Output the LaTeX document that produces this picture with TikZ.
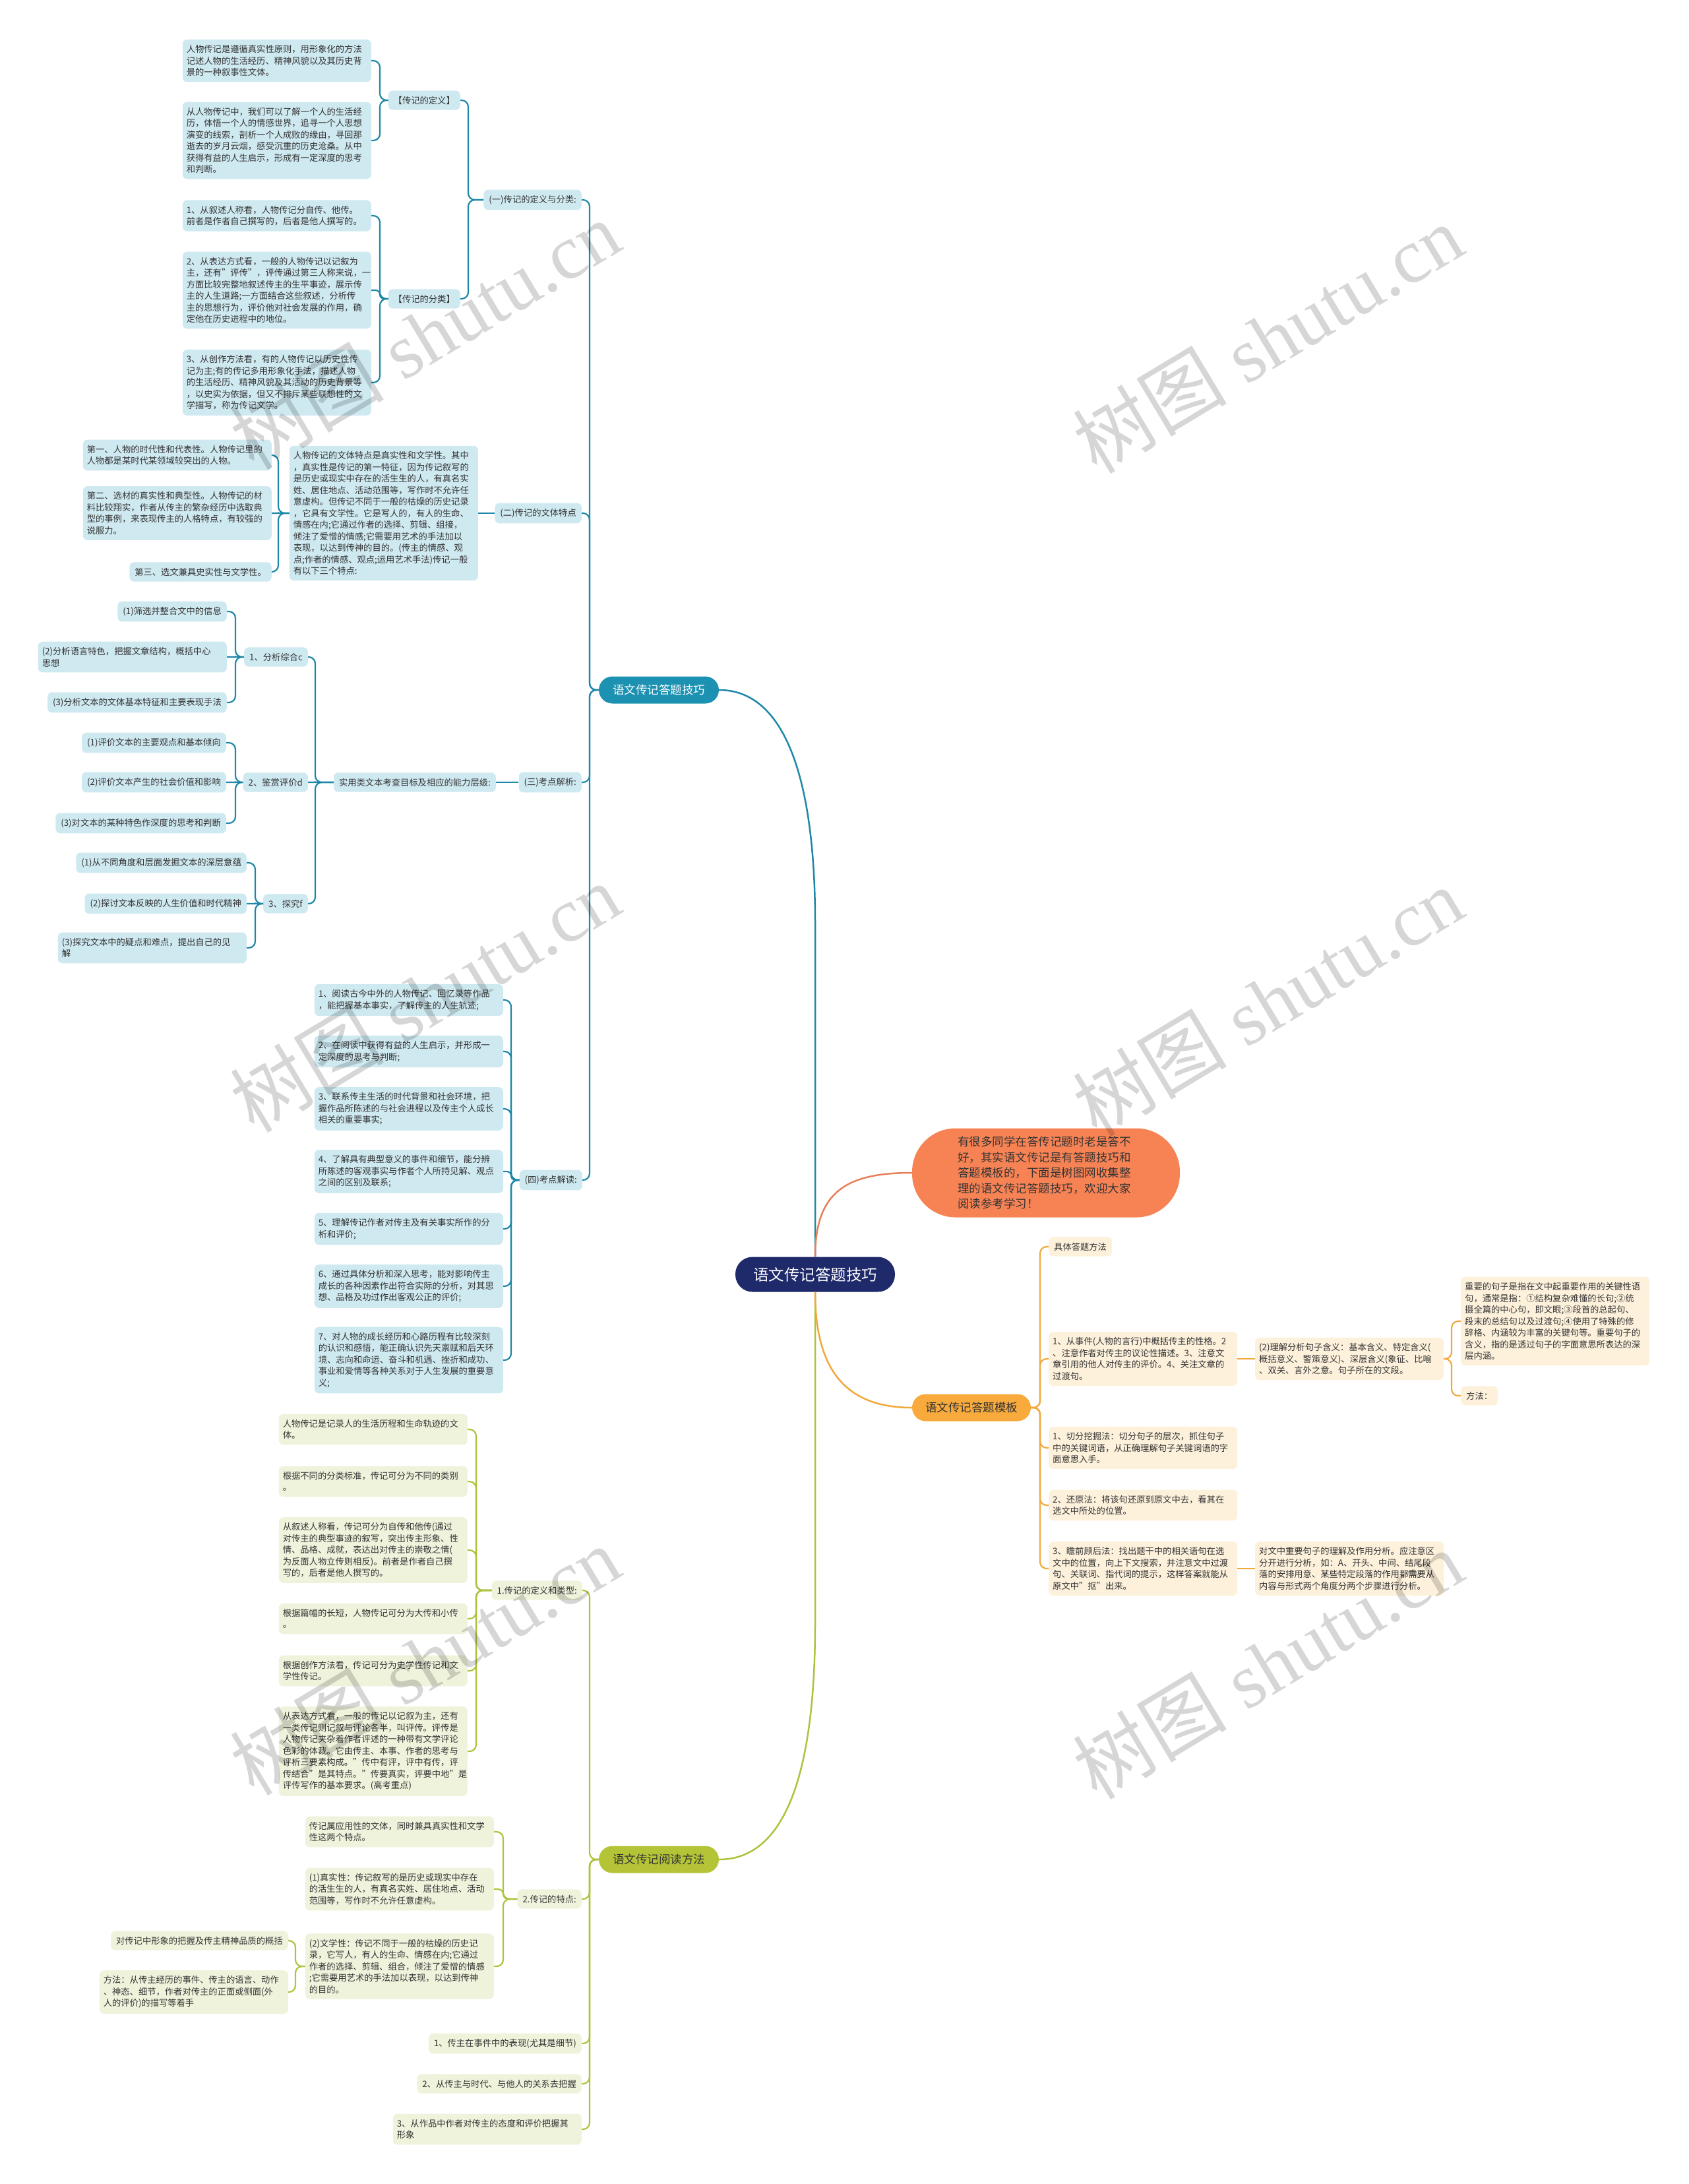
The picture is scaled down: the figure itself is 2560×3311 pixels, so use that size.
\documentclass[tikz,border=0pt]{standalone}
\usepackage{fontspec}
\setmainfont{Noto Sans CJK SC}
\newfontfamily\wmlatin{Liberation Serif}
\usetikzlibrary{calc}
\definecolor{tc}{HTML}{333333}
\definecolor{bfill}{HTML}{CFE9F1}
\definecolor{bline}{HTML}{1E88A8}
\definecolor{bmain}{HTML}{1C91B2}
\definecolor{navy}{HTML}{1F2A6B}
\definecolor{introc}{HTML}{F78355}
\definecolor{introl}{HTML}{E67F5A}
\definecolor{omain}{HTML}{F8AA3C}
\definecolor{oline}{HTML}{F1A83C}
\definecolor{ofill}{HTML}{FDF1DC}
\definecolor{gmain}{HTML}{B5C437}
\definecolor{gline}{HTML}{AFC23C}
\definecolor{gfill}{HTML}{EFF3DC}
\newcommand\fs{\fontsize{13.3}{17.5}\selectfont}
\newcommand\fm{\fontsize{17.5}{23.5}\selectfont}
\newcommand\fc{\fontsize{23.5}{28}\selectfont}
\newcommand\lc[4]{\draw[#1] let \p1=(#2.west), \p2=(#3.east), \n1={max(0.5,min(10,abs(\y2-\y1)/2))} in [rounded corners=\n1] (\p1) -- (#4pt,\y1) -- (#4pt,\y2) -- (\p2);}
\newcommand\rc[4]{\draw[#1] let \p1=(#2.east), \p2=(#3.west), \n1={max(0.5,min(10,abs(\y2-\y1)/2))} in [rounded corners=\n1] (\p1) -- (#4pt,\y1) -- (#4pt,\y2) -- (\p2);}
\newcommand\wmtext{树图\hspace{0.25em}{\wmlatin shutu.cn}}
\begin{document}
\begin{tikzpicture}[x=1pt,y=-1pt,
  base/.style={rounded corners=7pt, inner xsep=8pt, inner ysep=8.5pt, text=tc, font=\fs, align=left},
  wrapb/.style={text width=274pt, inner xsep=6pt},
  bn/.style={base, fill=bfill},
  gn/.style={base, fill=gfill},
  on/.style={base, fill=ofill},
  bl/.style={draw=bline, line width=2.2pt},
  gl/.style={draw=gline, line width=2.2pt},
  ol/.style={draw=oline, line width=2.2pt},
  mainn/.style={rounded corners=20.5pt, minimum width=182pt, minimum height=41pt, inner sep=0pt, font=\fm},
  wm/.style={rotate=31, text=black, opacity=0.16, font=\fontsize{117}{117}\selectfont}
]
\path[use as bounding box, fill=white] (0,0) rectangle (2560,3311);

% ---------- central and main nodes ----------
\node[fill=navy, text=white, rounded corners=26pt, minimum width=242pt, minimum height=53pt, inner sep=0pt, font=\fc] (root) at (1236,1932) {语文传记答题技巧};
\node[mainn, fill=bmain, text=white] (bm) at (999,1046) {语文传记答题技巧};
\node[mainn, fill=gmain, text=tc] (grm) at (999,2819) {语文传记阅读方法};
\node[mainn, fill=omain, text=tc, minimum width=180pt] (gm) at (1473,2134) {语文传记答题模板};
\node[fill=introc, text=tc, rounded corners=66pt, text width=268pt, inner xsep=69pt, inner ysep=11pt, minimum height=135pt, font=\fm, align=left] (intro) at (1586,1778) {有很多同学在答传记题时老是答不\\好，其实语文传记是有答题技巧和\\答题模板的，下面是树图网收集整\\理的语文传记答题技巧，欢迎大家\\阅读参考学习！};

% ---------- blue branch ----------
\node[bn, wrapb, anchor=east] (def1) at (563,92) {人物传记是遵循真实性原则，用形象化的方法\\记述人物的生活经历、精神风貌以及其历史背\\景的一种叙事性文体。};
\node[bn, wrapb, anchor=east] (def2) at (563,213) {从人物传记中，我们可以了解一个人的生活经\\历，体悟一个人的情感世界，追寻一个人思想\\演变的线索，剖析一个人成败的缘由，寻回那\\逝去的岁月云烟，感受沉重的历史沧桑。从中\\获得有益的人生启示，形成有一定深度的思考\\和判断。};
\node[bn, anchor=east] (def) at (698,152) {【传记的定义】};
\node[bn, wrapb, anchor=east] (cls1) at (563,327) {1、从叙述人称看，人物传记分自传、他传。\\前者是作者自己撰写的，后者是他人撰写的。};
\node[bn, wrapb, anchor=east] (cls2) at (563,440) {2、从表达方式看，一般的人物传记以记叙为\\主，还有"评传"，评传通过第三人称来说，一\\方面比较完整地叙述传主的生平事迹，展示传\\主的人生道路;一方面结合这些叙述，分析传\\主的思想行为，评价他对社会发展的作用，确\\定他在历史进程中的地位。};
\node[bn, wrapb, anchor=east] (cls3) at (563,580) {3、从创作方法看，有的人物传记以历史性传\\记为主;有的传记多用形象化手法，描述人物\\的生活经历、精神风貌及其活动的历史背景等\\，以史实为依据，但又不排斥某些联想性的文\\学描写，称为传记文学。};
\node[bn, anchor=east] (cls) at (698,453) {【传记的分类】};
\node[bn, anchor=east] (s1) at (882,303) {(一)传记的定义与分类:};

\node[bn, wrapb, anchor=east] (di1) at (412,690) {第一、人物的时代性和代表性。人物传记里的\\人物都是某时代某领域较突出的人物。};
\node[bn, wrapb, anchor=east] (di2) at (412,778) {第二、选材的真实性和典型性。人物传记的材\\料比较翔实，作者从传主的繁杂经历中选取典\\型的事例，来表现传主的人格特点，有较强的\\说服力。};
\node[bn, anchor=east] (di3) at (412,867) {第三、选文兼具史实性与文学性。};
\node[bn, wrapb, anchor=east] (wt) at (725,778) {人物传记的文体特点是真实性和文学性。其中\\，真实性是传记的第一特征，因为传记叙写的\\是历史或现实中存在的活生生的人，有真名实\\姓、居住地点、活动范围等，写作时不允许任\\意虚构。但传记不同于一般的枯燥的历史记录\\，它具有文学性。它是写人的，有人的生命、\\情感在内;它通过作者的选择、剪辑、组接，\\倾注了爱憎的情感;它需要用艺术的手法加以\\表现，以达到传神的目的。(传主的情感、观\\点;作者的情感、观点;运用艺术手法)传记一般\\有以下三个特点:};
\node[bn, anchor=east] (s2) at (882,778) {(二)传记的文体特点};

\node[bn, anchor=east] (a1) at (344,927) {(1)筛选并整合文中的信息};
\node[bn, wrapb, anchor=east] (a2) at (344,996) {(2)分析语言特色，把握文章结构，概括中心\\思想};
\node[bn, anchor=east] (a3) at (344,1065) {(3)分析文本的文体基本特征和主要表现手法};
\node[bn, anchor=east] (A) at (467,996) {1、分析综合c};
\node[bn, anchor=east] (b1) at (343,1126) {(1)评价文本的主要观点和基本倾向};
\node[bn, anchor=east] (b2) at (343,1186) {(2)评价文本产生的社会价值和影响};
\node[bn, anchor=east] (b3) at (343,1248) {(3)对文本的某种特色作深度的思考和判断};
\node[bn, anchor=east] (B) at (467,1186) {2、鉴赏评价d};
\node[bn, anchor=east] (c1) at (374,1308) {(1)从不同角度和层面发掘文本的深层意蕴};
\node[bn, anchor=east] (c2) at (374,1370) {(2)探讨文本反映的人生价值和时代精神};
\node[bn, wrapb, anchor=east] (c3) at (374,1437) {(3)探究文本中的疑点和难点，提出自己的见\\解};
\node[bn, anchor=east] (C) at (467,1370) {3、探究f};
\node[bn, anchor=east] (sy) at (752,1186) {实用类文本考查目标及相应的能力层级:};
\node[bn, anchor=east] (s3) at (882,1186) {(三)考点解析:};

\node[bn, wrapb, anchor=east] (k1) at (763,1516) {1、阅读古今中外的人物传记、回忆录等作品\\，能把握基本事实，了解传主的人生轨迹;};
\node[bn, wrapb, anchor=east] (k2) at (763,1594) {2、在阅读中获得有益的人生启示，并形成一\\定深度的思考与判断;};
\node[bn, wrapb, anchor=east] (k3) at (763,1681) {3、联系传主生活的时代背景和社会环境，把\\握作品所陈述的与社会进程以及传主个人成长\\相关的重要事实;};
\node[bn, wrapb, anchor=east] (k4) at (763,1776) {4、了解具有典型意义的事件和细节，能分辨\\所陈述的客观事实与作者个人所持见解、观点\\之间的区别及联系;};
\node[bn, wrapb, anchor=east] (k5) at (763,1863) {5、理解传记作者对传主及有关事实所作的分\\析和评价;};
\node[bn, wrapb, anchor=east] (k6) at (763,1950) {6、通过具体分析和深入思考，能对影响传主\\成长的各种因素作出符合实际的分析，对其思\\想、品格及功过作出客观公正的评价;};
\node[bn, wrapb, anchor=east] (k7) at (763,2062) {7、对人物的成长经历和心路历程有比较深刻\\的认识和感悟，能正确认识先天禀赋和后天环\\境、志向和命运、奋斗和机遇、挫折和成功、\\事业和爱情等各种关系对于人生发展的重要意\\义;};
\node[bn, anchor=east] (s4) at (883,1789) {(四)考点解读:};

% ---------- gold branch ----------
\node[on, anchor=west] (j0) at (1590,1890) {具体答题方法};
\node[on, wrapb, anchor=west] (j1) at (1590,2060) {1、从事件(人物的言行)中概括传主的性格。2\\、注意作者对传主的议论性描述。3、注意文\\章引用的他人对传主的评价。4、关注文章的\\过渡句。};
\node[on, wrapb, anchor=west] (j2) at (1903,2060) {(2)理解分析句子含义：基本含义、特定含义(\\概括意义、警策意义)、深层含义(象征、比喻\\、双关、言外之意。句子所在的文段。};
\node[on, wrapb, anchor=west] (j3) at (2215,2003) {重要的句子是指在文中起重要作用的关键性语\\句，通常是指：①结构复杂难懂的长句;②统\\摄全篇的中心句，即文眼;③段首的总起句、\\段末的总结句以及过渡句;④使用了特殊的修\\辞格、内涵较为丰富的关键句等。重要句子的\\含义，指的是透过句子的字面意思所表达的深\\层内涵。};
\node[on, anchor=west] (j4) at (2215,2116) {方法：};
\node[on, wrapb, anchor=west] (j5) at (1590,2195) {1、切分挖掘法：切分句子的层次，抓住句子\\中的关键词语，从正确理解句子关键词语的字\\面意思入手。};
\node[on, wrapb, anchor=west] (j6) at (1590,2282) {2、还原法：将该句还原到原文中去，看其在\\选文中所处的位置。};
\node[on, wrapb, anchor=west] (j7) at (1590,2378) {3、瞻前顾后法：找出题干中的相关语句在选\\文中的位置，向上下文搜索，并注意文中过渡\\句、关联词、指代词的提示，这样答案就能从\\原文中"抠"出来。};
\node[on, wrapb, anchor=west] (j8) at (1903,2378) {对文中重要句子的理解及作用分析。应注意区\\分开进行分析，如：A、开头、中间、结尾段\\落的安排用意、某些特定段落的作用都需要从\\内容与形式两个角度分两个步骤进行分析。};

% ---------- green branch ----------
\node[gn, wrapb, anchor=east] (g1) at (709,2167) {人物传记是记录人的生活历程和生命轨迹的文\\体。};
\node[gn, wrapb, anchor=east] (g2) at (709,2246) {根据不同的分类标准，传记可分为不同的类别\\。};
\node[gn, wrapb, anchor=east] (g3) at (709,2350) {从叙述人称看，传记可分为自传和他传(通过\\对传主的典型事迹的叙写，突出传主形象、性\\情、品格、成就，表达出对传主的崇敬之情(\\为反面人物立传则相反)。前者是作者自己撰\\写的，后者是他人撰写的。};
\node[gn, wrapb, anchor=east] (g4) at (709,2454) {根据篇幅的长短，人物传记可分为大传和小传\\。};
\node[gn, wrapb, anchor=east] (g5) at (709,2533) {根据创作方法看，传记可分为史学性传记和文\\学性传记。};
\node[gn, wrapb, anchor=east] (g6) at (709,2655) {从表达方式看，一般的传记以记叙为主，还有\\一类传记则记叙与评论各半，叫评传。评传是\\人物传记夹杂着作者评述的一种带有文学评论\\色彩的体裁。它由传主、本事、作者的思考与\\评析三要素构成。"传中有评，评中有传，评\\传结合"是其特点。"传要真实，评要中地"是\\评传写作的基本要求。(高考重点)};
\node[gn, anchor=east] (G1) at (883,2411) {1.传记的定义和类型:};
\node[gn, wrapb, anchor=east] (t1) at (749,2777) {传记属应用性的文体，同时兼具真实性和文学\\性这两个特点。};
\node[gn, wrapb, anchor=east] (t2) at (749,2864) {(1)真实性：传记叙写的是历史或现实中存在\\的活生生的人，有真名实姓、居住地点、活动\\范围等，写作时不允许任意虚构。};
\node[gn, wrapb, anchor=east] (t3) at (749,2981) {(2)文学性：传记不同于一般的枯燥的历史记\\录，它写人，有人的生命、情感在内;它通过\\作者的选择、剪辑、组合，倾注了爱憎的情感\\;它需要用艺术的手法加以表现，以达到传神\\的目的。};
\node[gn, anchor=east] (G2) at (882,2879) {2.传记的特点:};
\node[gn, anchor=east] (u1) at (437,2942) {对传记中形象的把握及传主精神品质的概括};
\node[gn, wrapb, anchor=east] (u2) at (437,3020) {方法：从传主经历的事件、传主的语言、动作\\、神态、细节，作者对传主的正面或侧面(外\\人的评价)的描写等着手};
\node[gn, anchor=east] (G3) at (882,3098) {1、传主在事件中的表现(尤其是细节)};
\node[gn, anchor=east] (G4) at (882,3159) {2、从传主与时代、与他人的关系去把握};
\node[gn, wrapb, anchor=east] (G5) at (882,3228) {3、从作品中作者对传主的态度和评价把握其\\形象};

% ---------- main curves ----------
\draw[bl, line width=2.5pt] (bm.east) .. controls (1190,1046) and (1236,1180) .. (1236,1400) -- (root.north);
\draw[gl, line width=2.5pt] (grm.east) .. controls (1190,2819) and (1236,2690) .. (1236,2460) -- (root.south);
\draw[draw=introl, line width=2.5pt] (root.north) .. controls (1236,1805) and (1285,1778) .. (intro.west);
\draw[ol, line width=2.5pt] (root.south) .. controls (1236,2080) and (1285,2134) .. (gm.west);

% ---------- blue connectors ----------
\lc{bl}{bm}{s1}{894}
\lc{bl}{bm}{s2}{894}
\lc{bl}{bm}{s3}{894}
\lc{bl}{bm}{s4}{894}
\lc{bl}{s1}{def}{710}
\lc{bl}{s1}{cls}{710}
\lc{bl}{def}{def1}{576}
\lc{bl}{def}{def2}{576}
\lc{bl}{cls}{cls1}{576}
\lc{bl}{cls}{cls2}{576}
\lc{bl}{cls}{cls3}{576}
\draw[bl] (s2.west) -- (wt.east);
\lc{bl}{wt}{di1}{422}
\lc{bl}{wt}{di2}{422}
\lc{bl}{wt}{di3}{422}
\draw[bl] (s3.west) -- (sy.east);
\lc{bl}{sy}{A}{478}
\lc{bl}{sy}{B}{478}
\lc{bl}{sy}{C}{478}
\lc{bl}{A}{a1}{357}
\lc{bl}{A}{a2}{357}
\lc{bl}{A}{a3}{357}
\lc{bl}{B}{b1}{357}
\lc{bl}{B}{b2}{357}
\lc{bl}{B}{b3}{357}
\lc{bl}{C}{c1}{387}
\lc{bl}{C}{c2}{387}
\lc{bl}{C}{c3}{387}
\lc{bl}{s4}{k1}{775}
\lc{bl}{s4}{k2}{775}
\lc{bl}{s4}{k3}{775}
\lc{bl}{s4}{k4}{775}
\lc{bl}{s4}{k5}{775}
\lc{bl}{s4}{k6}{775}
\lc{bl}{s4}{k7}{775}

% ---------- gold connectors ----------
\rc{ol}{gm}{j0}{1577}
\rc{ol}{gm}{j1}{1577}
\rc{ol}{gm}{j5}{1577}
\rc{ol}{gm}{j6}{1577}
\rc{ol}{gm}{j7}{1577}
\draw[ol] (j1.east) -- (j2.west);
\rc{ol}{j2}{j3}{2201}
\rc{ol}{j2}{j4}{2201}
\draw[ol] (j7.east) -- (j8.west);

% ---------- green connectors ----------
\lc{gl}{grm}{G1}{894}
\lc{gl}{grm}{G2}{894}
\lc{gl}{grm}{G3}{894}
\lc{gl}{grm}{G4}{894}
\lc{gl}{grm}{G5}{894}
\lc{gl}{G1}{g1}{722}
\lc{gl}{G1}{g2}{722}
\lc{gl}{G1}{g3}{722}
\lc{gl}{G1}{g4}{722}
\lc{gl}{G1}{g5}{722}
\lc{gl}{G1}{g6}{722}
\lc{gl}{G2}{t1}{763}
\lc{gl}{G2}{t2}{763}
\lc{gl}{G2}{t3}{763}
\lc{gl}{t3}{u1}{448}
\lc{gl}{t3}{u2}{448}

% ---------- watermarks ----------
\node[wm] (w1) at (644,507) {\wmtext};
\node[wm] (w2) at (1922,513) {\wmtext};
\node[wm] (w3) at (644,1512) {\wmtext};
\node[wm] (w4) at (1922,1518) {\wmtext};
\node[wm] (w5) at (644,2517) {\wmtext};
\node[wm] (w6) at (1922,2523) {\wmtext};
\end{tikzpicture}
\end{document}
